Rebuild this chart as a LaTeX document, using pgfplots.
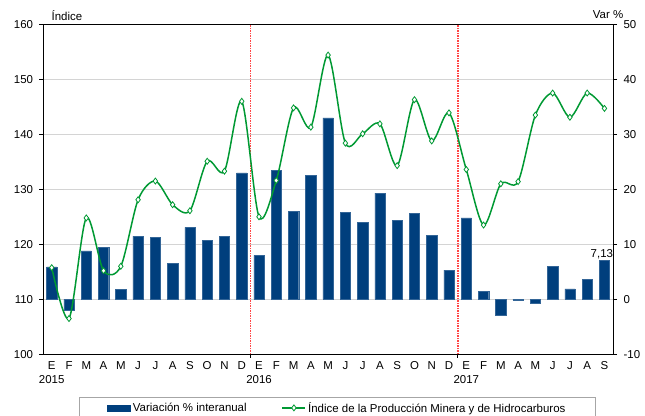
\documentclass[border=0pt]{standalone}
\usepackage{pgfplots}
\usepackage{pgfplotstable}
\pgfplotsset{compat=1.18}
\usepackage{fontspec}
\setmainfont{Liberation Sans}
\definecolor{barblue}{RGB}{0,63,125}
\definecolor{linegreen}{RGB}{0,153,51}
\definecolor{gridgray}{RGB}{212,212,212}
\definecolor{sepred}{RGB}{255,70,70}
\pgfplotsset{mylinelegend/.style={legend image code/.code={\draw[mark repeat=2,mark phase=2,##1] plot coordinates {(0bp,0bp)(11.5bp,0bp)(23bp,0bp)};}}}

\pgfplotstableread{
x v
0 5.9
1 -2.0
2 8.8
3 9.4
4 1.8
5 11.5
6 11.3
7 6.5
8 13.1
9 10.7
10 11.5
11 23.0
12 8.0
13 23.5
14 16.0
15 22.6
16 33.0
17 15.8
18 14.0
19 19.3
20 14.4
21 15.6
22 11.6
23 5.3
24 14.8
25 1.4
26 -2.85
27 -0.15
28 -0.7
29 6.05
30 1.9
31 3.6
32 7.13
}\bars

\pgfplotstableread{
x idx
0 115.75
1 106.5
2 124.8
3 115.2
4 116.0
5 128.1
6 131.5
7 127.2
8 126.1
9 135.1
10 133.3
11 146.0
12 125.0
13 131.6
14 144.8
15 141.3
16 154.4
17 138.4
18 140.1
19 141.9
20 134.3
21 146.3
22 138.8
23 143.9
24 133.6
25 123.5
26 131.0
27 131.4
28 143.5
29 147.5
30 143.1
31 147.5
32 144.7
}\indice

\begin{document}
\begin{tikzpicture}[font=\fontsize{11.5}{14.3}\selectfont]
\begin{axis}[
  at={(0,0)}, anchor=south west,
  scale only axis, width=570bp, height=330bp,
  xmin=-0.5, xmax=32.5, ymin=-10, ymax=50,
  clip=false,
  ytick={-10,0,...,50},
  ytick pos=right,
  xtick={0,...,32},
  xticklabels={{E\\2015},F,M,A,M,J,J,A,S,O,N,D,{E\\2016},F,M,A,M,J,J,A,S,O,N,D,{E\\2017},F,M,A,M,J,J,A,S},
  xticklabel style={align=center},
  xtick pos=bottom,
  every major x tick/.append style={draw=none},
  tick align=outside,
  major tick length=4bp,
  ymajorgrids, grid style={gridgray, line width=1.2bp},
  axis line style={black, line width=0.9bp},
  tick style={black, line width=0.8bp},
  yticklabel style={xshift=3bp},
  /pgf/number format/assume math mode=true,
  ybar, bar width=10.3bp,
]
\addplot[fill=barblue, draw=barblue!80!white, line width=0.4bp] table[x=x,y=v]{\bars};
\node[anchor=south, inner sep=1bp] at (axis cs:31.85,7.13) {7,13};
\node[anchor=base east] at ([xshift=13.7bp, yshift=6bp]axis description cs:1,1) {Var \%};
\end{axis}
\begin{axis}[
  at={(0,0)}, anchor=south west,
  scale only axis, width=570bp, height=330bp,
  xmin=-0.5, xmax=32.5, ymin=100, ymax=160,
  clip=false,
  ytick={100,110,...,160},
  hide x axis, axis y line*=left,
  tick align=outside,
  major tick length=4bp,
  axis line style={black, line width=0.9bp},
  tick style={black, line width=0.8bp},
  yticklabel style={xshift=-2.5bp},
  /pgf/number format/assume math mode=true,
  legend style={at={(axis description cs:0.063,-0.129)}, anchor=north west,
    draw=gray!70, line width=0.6bp, legend columns=2, inner xsep=28bp, inner ysep=3bp,
    /tikz/every even column/.append style={column sep=33bp},
    font=\fontsize{11.5}{14.3}\selectfont},
  legend cell align=left,
]
\node[anchor=base west] at ([xshift=5bp, yshift=4bp]axis description cs:0,1) {Índice};
\addlegendimage{legend image code/.code={\fill[barblue] (0bp,-3bp) rectangle (23bp,3bp);}}
\addlegendentry{Variación \% interanual}
\addplot[color=sepred, dash pattern=on 1.5bp off 1bp, line width=1.1bp, forget plot] coordinates {(11.5,100) (11.5,160)};
\addplot[color=sepred, dash pattern=on 1.5bp off 1bp, line width=1.1bp, forget plot] coordinates {(23.52,100) (23.52,160)};
\addplot[black, line width=0.8bp, forget plot] coordinates {(11.5,100) (11.5,99.3)};
\addplot[black, line width=0.8bp, forget plot] coordinates {(23.5,100) (23.5,99.3)};
\addplot[linegreen, line width=1.5bp, smooth, mark=diamond*, mark size=3bp,
  mark options={fill=white, draw=linegreen, line width=0.8bp, solid}, mylinelegend]
  table[x=x,y=idx]{\indice};
\addlegendentry{Índice de la Producción Minera y de Hidrocarburos}
\end{axis}
\pgfresetboundingbox
\path (-43.1bp,-61.7bp) rectangle (601.9bp,354.3bp);
\end{tikzpicture}
\end{document}
